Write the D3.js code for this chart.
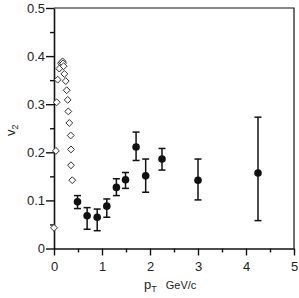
<!DOCTYPE html>
<html>
<head>
<meta charset="utf-8">
<script src="https://cdn.jsdelivr.net/npm/d3@7"></script>
<style>
  body { margin: 0; background: #fff; }
  svg text { font-family: "Liberation Sans", Arial, sans-serif; fill: #222; }
</style>
</head>
<body>
<div id="chart"></div>
<script>
var width = 299;
var height = 298;

// open diamonds (pT, v2)
var diamondX = [0.0, 0.04, 0.056, 0.077, 0.11, 0.146, 0.167, 0.18, 0.19, 0.2, 0.215, 0.244, 0.265, 0.285, 0.298, 0.319, 0.348, 0.354, 0.354, 0.38];
var diamondY = [0.043, 0.203, 0.304, 0.351, 0.374, 0.385, 0.387, 0.389, 0.385, 0.379, 0.363, 0.348, 0.329, 0.309, 0.285, 0.261, 0.235, 0.206, 0.173, 0.142];

// filled circles with error bars
var pointX = [0.49, 0.69, 0.9, 1.1, 1.3, 1.49, 1.71, 1.91, 2.25, 3.0, 4.25];
var pointY = [0.097, 0.068, 0.065, 0.088, 0.127, 0.143, 0.211, 0.151, 0.186, 0.142, 0.157];
var errLow = [0.083, 0.04, 0.037, 0.065, 0.11, 0.125, 0.183, 0.117, 0.163, 0.101, 0.058];
var errHigh = [0.11, 0.085, 0.082, 0.103, 0.145, 0.158, 0.242, 0.186, 0.208, 0.186, 0.273];

var xMajor = [0, 1, 2, 3, 4, 5];
var xMinor = [0.5, 1.5, 2.5, 3.5, 4.5];
var yMajor = [0, 0.1, 0.2, 0.3, 0.4, 0.5];
var yMinor = [0.05, 0.15, 0.25, 0.35, 0.45];

var mLeft = 54, mRight = 294, mTop = 8, mBottom = 248.5;

const svg = d3.select("#chart")
  .append("svg")
  .attr("width", width)
  .attr("height", height);

var x = d3.scaleLinear().domain([0, 5]).range([mLeft, mRight]);
var y = d3.scaleLinear().domain([0, 0.5]).range([mBottom, mTop]);

// frame top / right
svg.append("path")
  .attr("d", "M" + x(0) + "," + y(0.5) + "H" + x(5) + "V" + y(0))
  .attr("fill", "none")
  .attr("stroke", "#111")
  .attr("stroke-width", 1.2);

// minor ticks first
svg.append("g")
  .attr("transform", "translate(0," + mBottom + ")")
  .call(d3.axisBottom(x).tickValues(xMinor).tickSize(4).tickFormat("").tickSizeOuter(0))
  .call(g => g.select(".domain").remove());
svg.append("g")
  .attr("transform", "translate(" + mLeft + ",0)")
  .call(d3.axisLeft(y).tickValues(yMinor).tickSize(4).tickFormat("").tickSizeOuter(0))
  .call(g => g.select(".domain").remove());

var xAxis = svg.append("g")
  .attr("transform", "translate(0," + mBottom + ")")
  .call(d3.axisBottom(x).tickValues(xMajor).tickSize(7).tickPadding(6).tickSizeOuter(0).tickFormat(d3.format("d")));
var yAxis = svg.append("g")
  .attr("transform", "translate(" + mLeft + ",0)")
  .call(d3.axisLeft(y).tickValues(yMajor).tickSize(8).tickPadding(1).tickSizeOuter(0).tickFormat(d => d === 0 ? "0" : d3.format(".1f")(d)));

svg.selectAll(".tick line").attr("stroke", "#111").attr("stroke-width", 1.4);
svg.selectAll(".domain").attr("stroke", "#111").attr("stroke-width", 1.6);
svg.selectAll(".tick text").style("font-size", "13px").attr("fill", "#222");

// axis titles
var xt = svg.append("text")
  .attr("x", 144)
  .attr("y", 289)
  .style("font-size", "13px");
xt.append("tspan").text("p");
xt.append("tspan").attr("dy", 3).style("font-size", "9px").text("T");
xt.append("tspan").attr("dy", -3).attr("dx", 9).style("font-size", "11px").text("GeV/c");

var yt = svg.append("text")
  .attr("transform", "translate(15,136) rotate(-90)")
  .style("font-size", "13px");
yt.append("tspan").text("v");
yt.append("tspan").attr("dy", 3).style("font-size", "9px").text("2");

// error bars
var eb = svg.append("g").attr("stroke", "#111").attr("stroke-width", 1.5);
pointX.forEach(function(px, i) {
  eb.append("line").attr("x1", x(px)).attr("x2", x(px)).attr("y1", y(errLow[i])).attr("y2", y(errHigh[i]));
  eb.append("line").attr("x1", x(px) - 3.5).attr("x2", x(px) + 3.5).attr("y1", y(errLow[i])).attr("y2", y(errLow[i]));
  eb.append("line").attr("x1", x(px) - 3.5).attr("x2", x(px) + 3.5).attr("y1", y(errHigh[i])).attr("y2", y(errHigh[i]));
});

svg.append("g")
  .selectAll("circle")
  .data(pointX)
  .join("circle")
  .attr("cx", d => x(d))
  .attr("cy", (d, i) => y(pointY[i]))
  .attr("r", 3.8)
  .attr("fill", "#111");

// diamonds
var diamond = d3.symbol().type(d3.symbolDiamond2).size(30);
svg.append("g")
  .selectAll("path")
  .data(diamondX)
  .join("path")
  .attr("transform", (d, i) => "translate(" + x(d) + "," + y(diamondY[i]) + ")")
  .attr("d", diamond)
  .attr("fill", "#fff")
  .attr("stroke", "#333")
  .attr("stroke-width", 1);
</script>
</body>
</html>
